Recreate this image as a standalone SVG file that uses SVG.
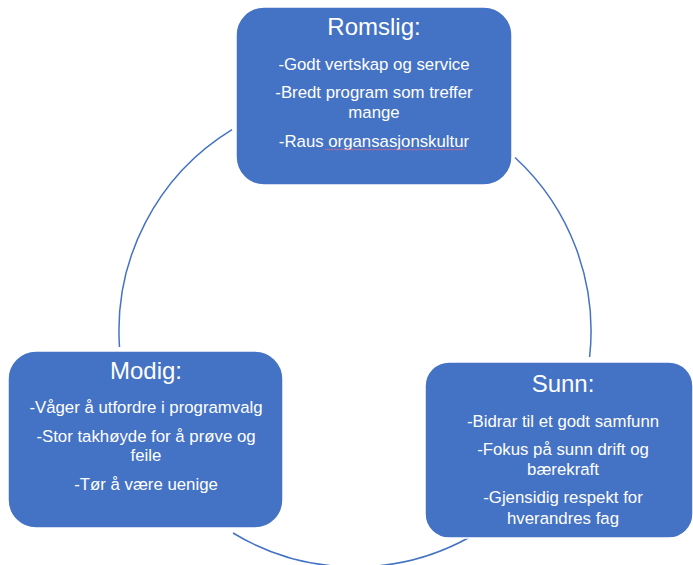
<svg xmlns="http://www.w3.org/2000/svg" width="693" height="565" viewBox="0 0 693 565">
<style>
.box{fill:#4472C4;stroke:#ffffff;stroke-width:1.5}
.arc{fill:none;stroke:#4472C4;stroke-width:1.5}
.t{font-family:"Liberation Sans",Arial,sans-serif;fill:#ffffff;text-anchor:middle}
.h{font-size:24px}
.i{font-size:16.8px}
.sp{fill:none;stroke:#d06a86;stroke-width:0.8}
</style>
<rect width="693" height="565" fill="#ffffff"/>
<g id="connectors">
<path class="arc" d="M232,129.6 A236,236 0 0 0 119.5,347"/>
<path class="arc" d="M515,157.5 A236,236 0 0 1 589.6,357"/>
<path class="arc" d="M233,533 A236,236 0 0 0 470,537"/>
</g>
<g id="romslig">
<rect class="box" x="236" y="7" width="276" height="178" rx="28"/>
<text class="t h" x="374" y="35">Romslig:</text>
<text class="t i" x="374" y="70">-Godt vertskap og service</text>
<text class="t i" x="374" y="98">-Bredt program som treffer</text>
<text class="t i" x="374" y="118">mange</text>
<text class="t i" x="374" y="147">-Raus organsasjonskultur</text>
<path class="sp" d="M325,150 l2,-1 2,1 2,-1 2,1 2,-1 2,1 2,-1 2,1 2,-1 2,1 2,-1 2,1 2,-1 2,1 2,-1 2,1 2,-1 2,1 2,-1 2,1 2,-1 2,1 2,-1 2,1 2,-1 2,1 2,-1 2,1 2,-1 2,1 2,-1 2,1 2,-1 2,1 2,-1 2,1 2,-1 2,1 2,-1 2,1 2,-1 2,1 2,-1 2,1 2,-1 2,1 2,-1 2,1 2,-1 2,1 2,-1 2,1 2,-1 2,1 2,-1 2,1 2,-1 2,1 2,-1 2,1 2,-1 2,1 2,-1 2,1 2,-1 2,1 2,-1 2,1 2,-1 2,1"/>
</g>
<g id="modig">
<rect class="box" x="8" y="351" width="275" height="177" rx="28"/>
<text class="t h" x="146" y="379">Modig:</text>
<text class="t i" x="146" y="413">-Våger å utfordre i programvalg</text>
<text class="t i" x="146" y="442">-Stor takhøyde for å prøve og</text>
<text class="t i" x="146" y="461">feile</text>
<text class="t i" x="146" y="490">-Tør å være uenige</text>
</g>
<g id="sunn">
<rect class="box" x="425" y="362" width="268" height="176" rx="24"/>
<text class="t h" x="563" y="392">Sunn:</text>
<text class="t i" x="563" y="427">-Bidrar til et godt samfunn</text>
<text class="t i" x="563" y="455">-Fokus på sunn drift og</text>
<text class="t i" x="563" y="475">bærekraft</text>
<text class="t i" x="563" y="503">-Gjensidig respekt for</text>
<text class="t i" x="563" y="524">hverandres fag</text>
</g>
</svg>
